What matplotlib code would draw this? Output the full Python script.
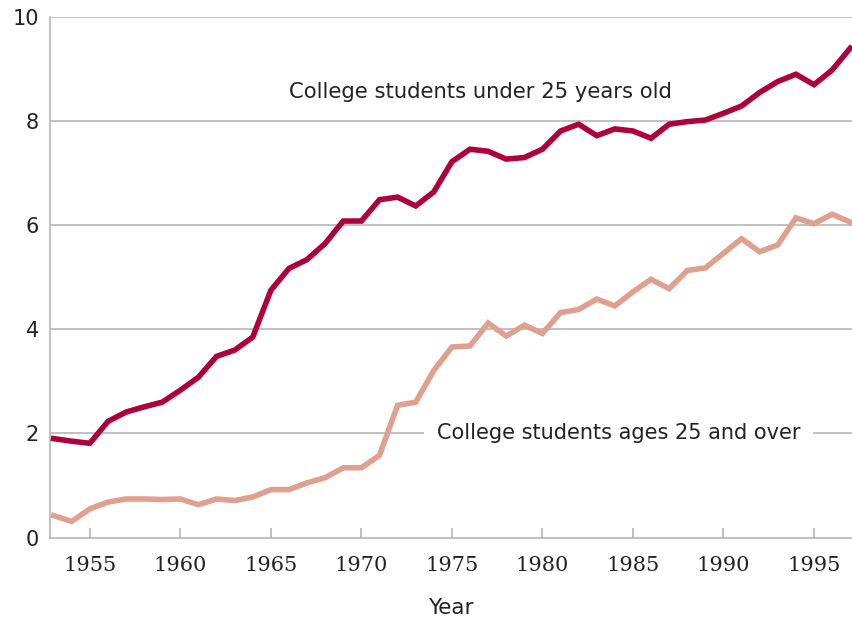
import numpy as np
import matplotlib.pyplot as plt

# Datos (millones de estudiantes)
years = list(range(1953, 1998))

under_25 = [1.90, 1.85, 1.81, 2.23, 2.41, 2.51, 2.60, 2.83, 3.08, 3.48,
            3.60, 3.85, 4.75, 5.17, 5.34, 5.65, 6.08, 6.08, 6.49, 6.54,
            6.37, 6.64, 7.22, 7.46, 7.42, 7.27, 7.30, 7.46, 7.81, 7.94,
            7.72, 7.85, 7.81, 7.67, 7.94, 7.99, 8.02, 8.15, 8.29, 8.55,
            8.76, 8.90, 8.70, 8.98, 9.40]

over_25 = [0.42, 0.31, 0.55, 0.68, 0.74, 0.74, 0.73, 0.74, 0.63, 0.74,
           0.71, 0.78, 0.92, 0.92, 1.05, 1.15, 1.34, 1.34, 1.58, 2.54,
           2.60, 3.21, 3.66, 3.68, 4.12, 3.87, 4.08, 3.92, 4.32, 4.38,
           4.58, 4.45, 4.72, 4.96, 4.78, 5.13, 5.18, 5.46, 5.74, 5.49,
           5.62, 6.14, 6.03, 6.21, 6.06]

x_ticks = [1955, 1960, 1965, 1970, 1975, 1980, 1985, 1990, 1995]
y_ticks = [0, 2, 4, 6, 8, 10]

label_under = "College students under 25 years old"
label_over = "College students ages 25 and over"

red = "#b0003a"
pink = "#e0a08f"
grid_col = "#b0b0b0"
text_col = "#222222"


def main():
    fig = plt.figure(figsize=(8.52, 6.17), dpi=100)
    ax = fig.add_axes([50/852, 1 - 537.5/617, 1 - 50/852, (537.5 - 17)/617])

    ax.set_xlim(1952.8, 1997.1)
    ax.set_ylim(0, 10)

    # rejilla horizontal
    for y in y_ticks[1:]:
        ax.axhline(y, color=grid_col, lw=1.1, zorder=1)

    ax.plot(years, over_25, color=pink, lw=4, solid_joinstyle='miter', zorder=3)
    ax.plot(years, under_25, color=red, lw=4, solid_joinstyle='miter', zorder=3)

    ax.text(1976.6, 8.56, label_under, ha='center', va='center',
            fontsize=15.2, color=text_col, family='DejaVu Sans', zorder=4)
    ax.text(1984.2, 2.0, label_over, ha='center', va='center',
            fontsize=15, color=text_col, family='DejaVu Sans', zorder=2,
            bbox=dict(boxstyle='square,pad=0.6', fc='white', ec='none'))

    for side in ['top', 'right']:
        ax.spines[side].set_visible(False)
    for side in ['left', 'bottom']:
        ax.spines[side].set_color(grid_col)
        ax.spines[side].set_linewidth(1.1)

    ax.set_xticks(x_ticks)
    ax.set_xticklabels([str(t) for t in x_ticks], family='DejaVu Serif',
                       fontsize=15, color=text_col)
    ax.tick_params(axis='x', direction='in', length=7.5, width=1.1,
                   color=grid_col, pad=13)

    ax.set_yticks(y_ticks)
    ax.set_yticklabels([str(t) for t in y_ticks], family='DejaVu Sans',
                       fontsize=15, color=text_col)
    ax.tick_params(axis='y', length=0, pad=8)

    ax.set_xlabel("Year", fontsize=15.5, color=text_col, family='DejaVu Sans',
                  labelpad=17)

    fig.savefig("out.png", dpi=100)


if __name__ == "__main__":
    main()
